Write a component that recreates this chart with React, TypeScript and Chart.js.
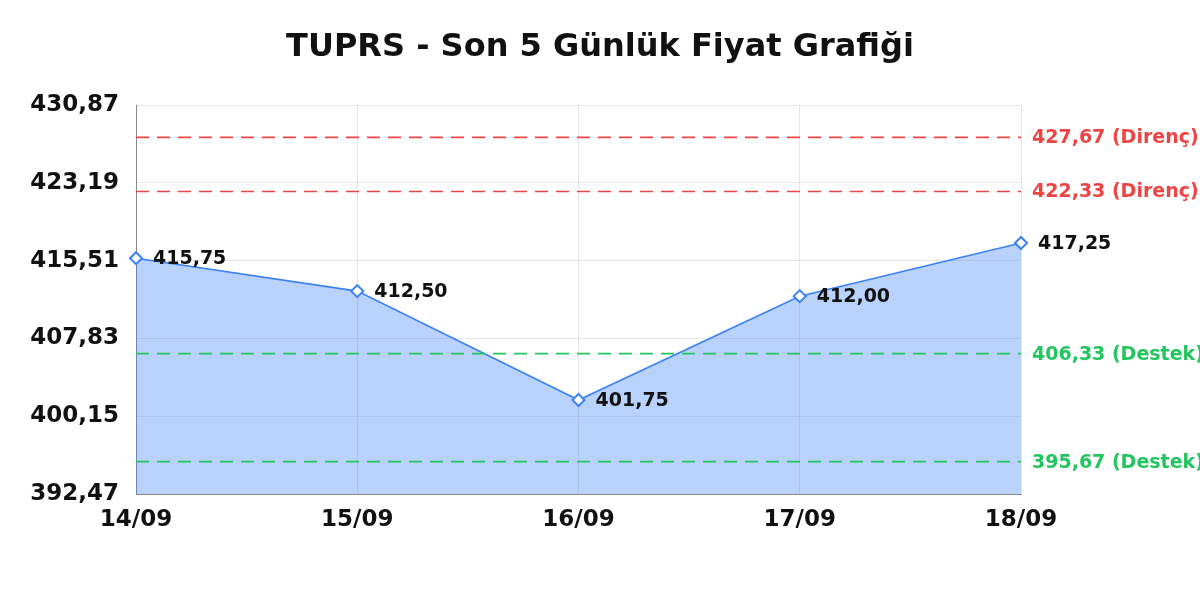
import React, { useEffect, useRef } from 'react';
import { Chart, registerables } from 'chart.js';

Chart.register(...registerables);

// chart data
const dates = ['14/09', '15/09', '16/09', '17/09', '18/09'];
const closePrices = [415.75, 412.5, 401.75, 412.0, 417.25];
const yTicks = [392.47, 400.15, 407.83, 415.51, 423.19, 430.87];
const resistanceLevels = [427.67, 422.33];
const supportLevels = [406.33, 395.67];

const FONT = 'DejaVu Sans';
const RED = '#ef4444';
const GREEN = '#22c55e';
const BLUE = '#3b82f6';

const fmt = (v: number) => v.toFixed(2).replace('.', ',');

// dashed horizontal levels with their labels right of the plot
const levelsPlugin = {
  id: 'levels',
  afterDatasetsDraw(chart: any) {
    const { ctx, chartArea } = chart;
    const y = chart.scales.y;
    const levels = [
      ...resistanceLevels.map(v => ({ v, color: RED, text: `${fmt(v)} (Direnç)` })),
      ...supportLevels.map(v => ({ v, color: GREEN, text: `${fmt(v)} (Destek)` })),
    ];
    ctx.save();
    levels.forEach(l => {
      const py = y.getPixelForValue(l.v);
      ctx.strokeStyle = l.color;
      ctx.lineWidth = 1.6;
      ctx.setLineDash([13, 8]);
      ctx.beginPath();
      ctx.moveTo(chartArea.left, py);
      ctx.lineTo(chartArea.right, py);
      ctx.stroke();
      ctx.setLineDash([]);
      ctx.fillStyle = l.color;
      ctx.font = `bold 19px "${FONT}"`;
      ctx.textAlign = 'left';
      ctx.textBaseline = 'middle';
      ctx.fillText(l.text, chartArea.right + 11, py + 1);
    });
    ctx.restore();
  },
};

// value labels next to each point
const pointLabelsPlugin = {
  id: 'pointLabels',
  afterDatasetsDraw(chart: any) {
    const { ctx } = chart;
    const meta = chart.getDatasetMeta(0);
    ctx.save();
    ctx.fillStyle = '#111';
    ctx.font = `bold 19px "${FONT}"`;
    ctx.textAlign = 'left';
    ctx.textBaseline = 'middle';
    meta.data.forEach((pt: any, i: number) => {
      ctx.fillText(fmt(closePrices[i]), pt.x + 17, pt.y + 1);
    });
    ctx.restore();
  },
};

const App: React.FC = () => {
  const canvasRef = useRef<HTMLCanvasElement>(null);
  const chartRef = useRef<Chart | null>(null);

  useEffect(() => {
    if (!canvasRef.current) return;
    if (chartRef.current) chartRef.current.destroy();

    chartRef.current = new Chart(canvasRef.current, {
      type: 'line',
      data: {
        labels: dates,
        datasets: [{
          data: closePrices,
          borderColor: BLUE,
          borderWidth: 1.6,
          backgroundColor: 'rgba(59,130,246,0.36)',
          fill: 'start',
          tension: 0,
          pointStyle: 'rectRot',
          pointRadius: 6,
          pointBorderWidth: 2,
          pointBackgroundColor: '#fff',
          pointBorderColor: BLUE,
        }],
      },
      options: {
        animation: false,
        responsive: true,
        maintainAspectRatio: false,
        layout: { padding: 0 },
        plugins: {
          legend: { display: false },
          tooltip: { enabled: false },
          title: {
            display: true,
            text: 'TUPRS - Son 5 Günlük Fiyat Grafiği',
            color: '#111',
            font: { family: FONT, size: 32, weight: 'bold' },
            padding: { top: 28, bottom: 38.6 },
          },
        },
        scales: {
          x: {
            offset: false,
            grid: { color: '#e6e6e6', drawTicks: false },
            border: { color: '#888' },
            ticks: { color: '#111', padding: 12, maxRotation: 0, font: { family: FONT, size: 23, weight: 'bold' } },
            afterFit: (s: any) => { s.height = 106; },
          },
          y: {
            min: yTicks[0],
            max: yTicks[yTicks.length - 1],
            grid: { color: '#e6e6e6', drawTicks: false },
            border: { color: '#888' },
            afterBuildTicks: (s: any) => { s.ticks = yTicks.map(v => ({ value: v })); },
            ticks: {
              color: '#111',
              padding: 17,
              font: { family: FONT, size: 23, weight: 'bold' },
              callback: (v: any) => fmt(Number(v)),
            },
            afterFit: (s: any) => { s.width = 136; },
          },
          yRight: {
            position: 'right',
            display: true,
            min: yTicks[0],
            max: yTicks[yTicks.length - 1],
            grid: { display: false },
            border: { display: false },
            ticks: { display: false },
            afterFit: (s: any) => { s.width = 179; },
          },
        },
      },
      plugins: [levelsPlugin, pointLabelsPlugin],
    } as any);

    return () => {
      if (chartRef.current) {
        chartRef.current.destroy();
        chartRef.current = null;
      }
    };
  }, []);

  return (
    <div style={{ position: 'fixed', left: 0, top: 0, width: 1200, height: 600, background: '#fff' }}>
      <canvas ref={canvasRef} />
    </div>
  );
};

export default App;
